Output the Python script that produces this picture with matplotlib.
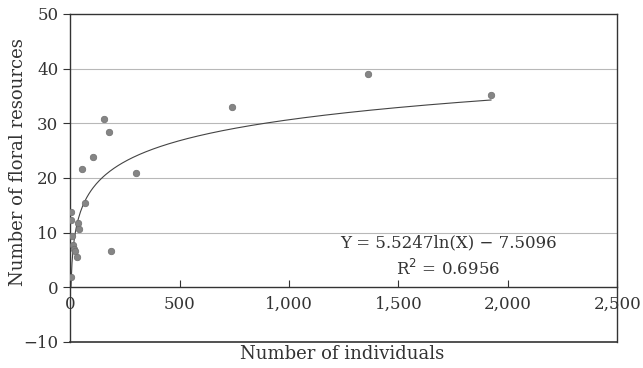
import numpy as np
import matplotlib
matplotlib.use("Agg")
import matplotlib.pyplot as plt

individuals = [2, 3, 3, 8, 12, 17, 23, 32, 36, 40, 53, 70, 105, 185, 303, 153, 179, 738, 1362, 1923]
resources = [1.8, 13.7, 12.4, 9.3, 7.7, 7.1, 6.6, 5.5, 11.7, 10.7, 21.6, 15.5, 23.9, 6.6, 20.9, 30.8, 28.5, 33.0, 39.0, 35.2]
coef_a, coef_b = 5.5247, -7.5096
x_ticks = [0, 500, 1000, 1500, 2000, 2500]
x_labels = ["0", "500", "1,000", "1,500", "2,000", "2,500"]
y_ticks = [-10, 0, 10, 20, 30, 40, 50]
y_labels = ["\u221210", "0", "10", "20", "30", "40", "50"]

plt.rcParams['font.family'] = ['DejaVu Serif']
fig = plt.figure(figsize=(6.43, 3.68), dpi=100)
ax = fig.add_axes([0.109, 0.0707, 0.851, 0.8913])

ax.set_xlim(0, 2500)
ax.set_ylim(-10, 50)

for g in [10, 20, 30, 40]:
    ax.axhline(g, color='#b8b8b8', lw=0.8, zorder=0)
ax.axhline(-10, color='#333333', lw=1.2, clip_on=False)

xs = np.linspace(4, max(individuals), 400)
ax.plot(xs, coef_a * np.log(xs) + coef_b, color='#444444', lw=0.8, zorder=2)
ax.scatter(individuals, resources, s=22, color='#858585', edgecolors='#6e6e6e', linewidths=0.5, zorder=3)

ax.spines['bottom'].set_position(('data', 0))
for s in ax.spines.values():
    s.set_color('#333333')
    s.set_linewidth(1.0)

ax.set_xticks(x_ticks)
ax.set_xticklabels(x_labels)
ax.set_yticks(y_ticks)
ax.set_yticklabels(y_labels)
ax.tick_params(axis='x', direction='in', length=5, labelsize=12, colors='#333333', pad=6)
ax.tick_params(axis='y', direction='out', length=5, labelsize=12, colors='#333333')

ax.text(1727, 8.2, "Y = 5.5247ln(X) \u2212 7.5096", ha='center', va='center', fontsize=12, color='#333333')
ax.text(1727, 3.4, "R$^2$ = 0.6956", ha='center', va='center', fontsize=12, color='#333333')

fig.text(0.532, 0.038, "Number of individuals", ha='center', va='center', fontsize=13, color='#333333')
fig.text(0.028, 0.56, "Number of floral resources", ha='center', va='center', rotation=90, fontsize=13, color='#333333')

fig.savefig("out.png", dpi=100, facecolor='white')
